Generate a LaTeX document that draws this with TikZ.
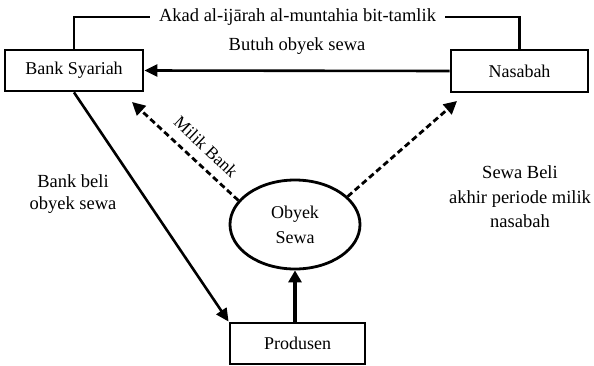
\documentclass[tikz,border=0pt]{standalone}
\usepackage{fontspec}
\setmainfont{Liberation Serif}
\usetikzlibrary{arrows.meta,shapes.geometric}
\begin{document}
\begin{tikzpicture}[x=1pt,y=-1pt,
  box/.style={draw,line width=2.8pt,rectangle,inner sep=0pt,font=\fontsize{18}{20}\selectfont},
  lbl/.style={font=\fontsize{18.5}{22}\selectfont,align=center,inner sep=1pt},
  solidarrow/.style={line width=2.6pt,-{Triangle[length=13pt,width=12pt]}},
  thickarrow/.style={line width=4.2pt,-{Triangle[length=12pt,width=13pt]}},
  dasharrow/.style={line width=2.8pt,dash pattern=on 6pt off 3.5pt,-{Triangle[length=13pt,width=13pt]}},
  bracket/.style={line width=2.6pt}]
\useasboundingbox (0,0) rectangle (594,365);
\node[box,minimum width=138pt,minimum height=41pt] (bank) at (74,70.5) {Bank Syariah};
\node[box,minimum width=137pt,minimum height=42pt] (nasabah) at (519.5,71) {Nasabah};
\node[draw,ellipse,line width=2.8pt,minimum width=130pt,minimum height=89pt,inner sep=0pt,align=center,font=\fontsize{18}{25}\selectfont] (obyek) at (295,224.5) {Obyek\\Sewa};
\node[box,minimum width=135pt,minimum height=41pt] (produsen) at (297.5,343.5) {Produsen};
\node[lbl,inner xsep=9pt] (akad) at (297.5,17) {Akad al-ijārah al-muntahia bit-tamlik};
\node[lbl] (butuh) at (297,46) {Butuh obyek sewa};
\node[lbl] (beli) at (73,194) {Bank beli\\obyek sewa};
\node[lbl,font=\fontsize{18.5}{24.5}\selectfont] (sewa) at (520,197) {Sewa Beli\\akhir periode milik\\nasabah};
\node[lbl,rotate=-43.5,font=\fontsize{17.5}{20}\selectfont] (milik) at (206,147) {Milik Bank};
\coordinate (tipL) at (132,102);
\coordinate (tipR) at (457,101);
\draw[bracket] (bank.north) |- (akad.west);
\draw[bracket] (akad.east) -| (nasabah.north);
\draw[solidarrow] (nasabah.west) -- (bank.east);
\draw[solidarrow] (bank.south) -- (produsen.north west);
\draw[thickarrow] (obyek.south |- produsen.north) -- (obyek.south);
\draw[dasharrow] (obyek.157) -- (tipL);
\draw[dasharrow] (obyek.28) -- (tipR);
\end{tikzpicture}
\end{document}
